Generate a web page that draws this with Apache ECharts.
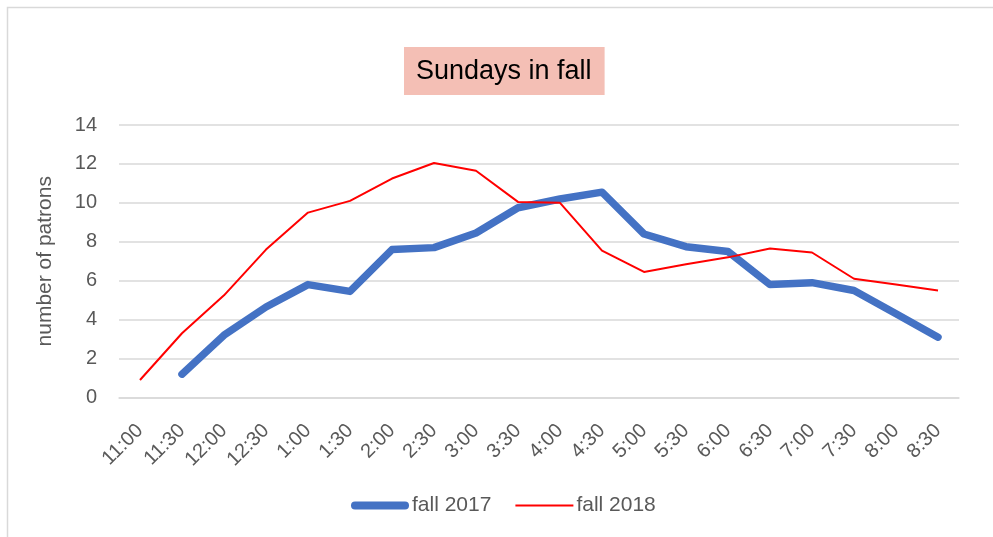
<!DOCTYPE html>
<html>
<head>
<meta charset="utf-8">
<script src="https://cdn.jsdelivr.net/npm/echarts@6/dist/echarts.min.js"></script>
<style>html,body{margin:0;padding:0;background:#fff}#c{width:993px;height:537px}</style>
</head>
<body>
<div id="c"></div>
<script>
const categories = ['11:00','11:30','12:00','12:30','1:00','1:30','2:00','2:30','3:00','3:30','4:00','4:30','5:00','5:30','6:00','6:30','7:00','7:30','8:00','8:30'];
const fall2017 = [null,1.2,3.2,4.65,5.8,5.45,7.6,7.7,8.45,9.75,10.2,10.55,8.4,7.75,7.5,5.8,5.9,5.5,4.3,3.1];
const fall2018 = [0.9,3.3,5.25,7.6,9.5,10.1,11.25,12.05,11.65,10.05,10.0,7.55,6.45,6.85,7.2,7.65,7.45,6.1,5.8,5.5];
const yTicks = [0,2,4,6,8,10,12,14];

const chart = echarts.init(document.getElementById('c'), null, {renderer:'canvas'});
const font = 'Liberation Sans, Arial, sans-serif';
chart.setOption({
  animation: false,
  backgroundColor: '#fff',
  graphic: [{
    type: 'rect', left: 5, top: 5, silent: true,
    shape: {width: 1000, height: 1000},
    style: {fill: 'none', stroke: '#d9d9d9', lineWidth: 1.5}
  }],
  title: {
    text: 'Sundays in fall',
    left: 404, top: 47,
    backgroundColor: '#F4BFB5',
    padding: [9, 13, 7, 12],
    textStyle: {fontFamily: font, fontSize: 27, fontWeight: 'normal', color: '#000', lineHeight: 32}
  },
  legend: {
    left: 346, top: 490,
    itemWidth: 58, itemHeight: 14, itemGap: 24,
    textStyle: {fontFamily: font, fontSize: 21, color: '#595959', padding: [0, 0, 0, -2]},
    data: [
      {name: 'fall 2017', icon: 'path://M4,0 L54,0 A4,4 0 0 1 54,8 L4,8 A4,4 0 0 1 4,0 Z', itemStyle: {color: '#4472C4'}},
      {name: 'fall 2018', icon: 'path://M0,0 L58,0 L58,2 L0,2 Z', itemStyle: {color: '#FF0000'}}
    ]
  },
  grid: {left: 119, right: 34, top: 125, bottom: 139.5},
  xAxis: {
    type: 'category', data: categories, boundaryGap: true,
    axisLine: {lineStyle: {color: '#d9d9d9', width: 1.5}},
    axisTick: {show: false},
    axisLabel: {rotate: 45, margin: 30, fontFamily: font, fontSize: 20, color: '#595959', interval: 0}
  },
  yAxis: {
    type: 'value', min: yTicks[0], max: yTicks[yTicks.length-1], interval: 2,
    name: 'number of patrons', nameLocation: 'middle', nameGap: 63,
    nameTextStyle: {fontFamily: font, fontSize: 21, color: '#595959'},
    axisLine: {show: false}, axisTick: {show: false},
    axisLabel: {margin: 22, fontFamily: font, fontSize: 20, color: '#595959'},
    splitLine: {lineStyle: {color: '#d9d9d9', width: 1.5}}
  },
  series: [
    {name: 'fall 2017', type: 'line', data: fall2017, showSymbol: false, symbol: 'none',
     connectNulls: false, color: '#4472C4',
     lineStyle: {width: 7.5, color: '#4472C4', cap: 'round', join: 'round'}},
    {name: 'fall 2018', type: 'line', data: fall2018, showSymbol: false, symbol: 'none',
     color: '#FF0000',
     lineStyle: {width: 2, color: '#FF0000', join: 'round'}}
  ]
});
</script>
</body>
</html>
